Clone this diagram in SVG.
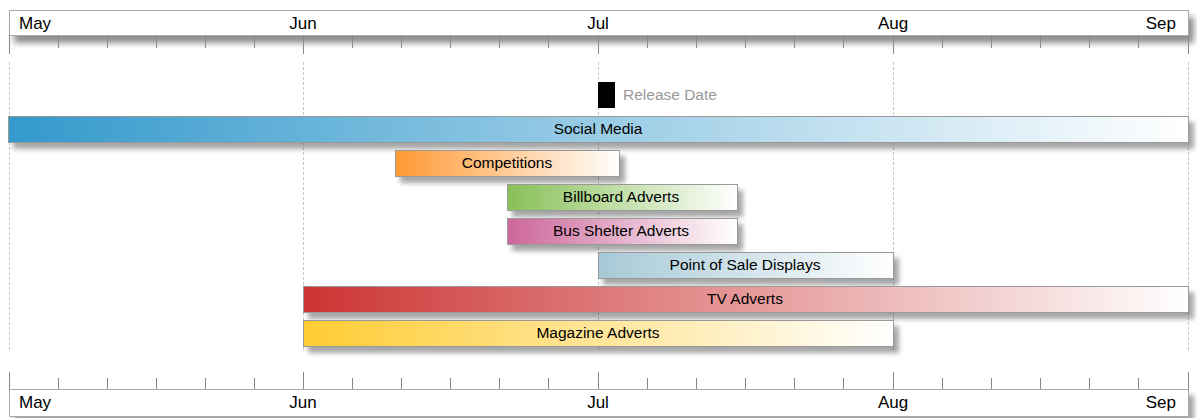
<svg xmlns="http://www.w3.org/2000/svg" width="1197" height="418" viewBox="0 0 1197 418">
<style>
.axisbox{fill:#fff;stroke:#aaa;stroke-width:1}
.tick{stroke:#888;stroke-width:1}
.grid{stroke:#c8c8c8;stroke-width:1;stroke-dasharray:3,2}
.bar{stroke:#999;stroke-width:1}
.lbl{font-family:"Liberation Sans",Arial,sans-serif;font-size:15.5px;fill:#000;text-anchor:middle}
.ax{font-family:"Liberation Sans",Arial,sans-serif;font-size:17px;fill:#000}
.rel{font-family:"Liberation Sans",Arial,sans-serif;font-size:15.5px;fill:#999}
</style>
<defs>
<filter id="sh" x="-5%" y="-50%" width="110%" height="220%">
<feGaussianBlur in="SourceAlpha" stdDeviation="2.5"/>
<feOffset dx="5" dy="6" result="b"/>
<feComponentTransfer><feFuncA type="linear" slope="0.35"/></feComponentTransfer>
<feMerge><feMergeNode/><feMergeNode in="SourceGraphic"/></feMerge>
</filter>
<filter id="sh2" x="-5%" y="-50%" width="110%" height="220%">
<feGaussianBlur in="SourceAlpha" stdDeviation="3"/>
<feOffset dx="5" dy="7" result="b"/>
<feComponentTransfer><feFuncA type="linear" slope="0.45"/></feComponentTransfer>
<feMerge><feMergeNode/><feMergeNode in="SourceGraphic"/></feMerge>
</filter>
<linearGradient id="gBlue"><stop offset="0" stop-color="#3399cc"/><stop offset="1" stop-color="#ffffff"/></linearGradient>
<linearGradient id="gOrange"><stop offset="0" stop-color="#ff9933"/><stop offset="1" stop-color="#ffffff"/></linearGradient>
<linearGradient id="gGreen"><stop offset="0" stop-color="#88c057"/><stop offset="1" stop-color="#ffffff"/></linearGradient>
<linearGradient id="gPink"><stop offset="0" stop-color="#cc6699"/><stop offset="1" stop-color="#ffffff"/></linearGradient>
<linearGradient id="gSlate"><stop offset="0" stop-color="#a6c9d6"/><stop offset="1" stop-color="#ffffff"/></linearGradient>
<linearGradient id="gRed"><stop offset="0" stop-color="#cc3333"/><stop offset="1" stop-color="#ffffff"/></linearGradient>
<linearGradient id="gYellow"><stop offset="0" stop-color="#ffcc33"/><stop offset="1" stop-color="#ffffff"/></linearGradient>
</defs>
<rect width="1197" height="418" fill="#fff"/>

<g id="gridlines">
<line class="grid" x1="9.5" y1="62" x2="9.5" y2="352"/>
<line class="grid" x1="303.5" y1="62" x2="303.5" y2="352"/>
<line class="grid" x1="598.5" y1="62" x2="598.5" y2="352"/>
<line class="grid" x1="893.5" y1="62" x2="893.5" y2="352"/>
<line class="grid" x1="1188.5" y1="62" x2="1188.5" y2="352"/>
</g>

<g id="top-axis">
<rect class="axisbox" x="9.5" y="10.5" width="1179" height="25" filter="url(#sh2)"/>
<path class="tick" d="M9.5 35v19M58.5 35v13M107.5 35v13M156.5 35v13M205.5 35v13M254.5 35v13M303.5 35v19M352.5 35v13M401.5 35v13M450.5 35v13M499.5 35v13M548.5 35v13M598.5 35v19M647.5 35v13M696.5 35v13M745.5 35v13M794.5 35v13M843.5 35v13M893.5 35v19M942.5 35v13M991.5 35v13M1040.5 35v13M1089.5 35v13M1138.5 35v13M1188.5 35v19"/>
<text class="ax" x="19" y="29">May</text>
<text class="ax" x="303" y="29" text-anchor="middle">Jun</text>
<text class="ax" x="598" y="29" text-anchor="middle">Jul</text>
<text class="ax" x="893" y="29" text-anchor="middle">Aug</text>
<text class="ax" x="1176" y="29" text-anchor="end">Sep</text>
</g>

<g id="bottom-axis">
<rect class="axisbox" x="9.5" y="389.5" width="1179" height="27" filter="url(#sh)"/>
<path class="tick" d="M9.5 372v17M58.5 378v11M107.5 378v11M156.5 378v11M205.5 378v11M254.5 378v11M303.5 372v17M352.5 378v11M401.5 378v11M450.5 378v11M499.5 378v11M548.5 378v11M598.5 372v17M647.5 378v11M696.5 378v11M745.5 378v11M794.5 378v11M843.5 378v11M893.5 372v17M942.5 378v11M991.5 378v11M1040.5 378v11M1089.5 378v11M1138.5 378v11M1188.5 372v17"/>
<text class="ax" x="19" y="408">May</text>
<text class="ax" x="303" y="408" text-anchor="middle">Jun</text>
<text class="ax" x="598" y="408" text-anchor="middle">Jul</text>
<text class="ax" x="893" y="408" text-anchor="middle">Aug</text>
<text class="ax" x="1176" y="408" text-anchor="end">Sep</text>
</g>

<g id="release-date">
<rect x="598" y="82" width="17" height="26" fill="#000"/>
<text class="rel" x="623" y="100">Release Date</text>
</g>

<g id="social-media">
<rect class="bar" x="8.5" y="116.5" width="1180" height="26" fill="url(#gBlue)" filter="url(#sh)"/>
<text class="lbl" x="598" y="134">Social Media</text>
</g>

<g id="competitions">
<rect class="bar" x="395.5" y="150.5" width="224" height="26" fill="url(#gOrange)" filter="url(#sh)"/>
<text class="lbl" x="507" y="168">Competitions</text>
</g>

<g id="billboard-adverts">
<rect class="bar" x="507.5" y="184.5" width="230" height="26" fill="url(#gGreen)" filter="url(#sh)"/>
<text class="lbl" x="621" y="202">Billboard Adverts</text>
</g>

<g id="bus-shelter-adverts">
<rect class="bar" x="507.5" y="218.5" width="230" height="26" fill="url(#gPink)" filter="url(#sh)"/>
<text class="lbl" x="621" y="236">Bus Shelter Adverts</text>
</g>

<g id="point-of-sale-displays">
<rect class="bar" x="598.5" y="252.5" width="295" height="26" fill="url(#gSlate)" filter="url(#sh)"/>
<text class="lbl" x="745" y="270">Point of Sale Displays</text>
</g>

<g id="tv-adverts">
<rect class="bar" x="303.5" y="286.5" width="885" height="26" fill="url(#gRed)" filter="url(#sh)"/>
<text class="lbl" x="745" y="304">TV Adverts</text>
</g>

<g id="magazine-adverts">
<rect class="bar" x="303.5" y="320.5" width="590" height="26" fill="url(#gYellow)" filter="url(#sh)"/>
<text class="lbl" x="598" y="338">Magazine Adverts</text>
</g>
</svg>
